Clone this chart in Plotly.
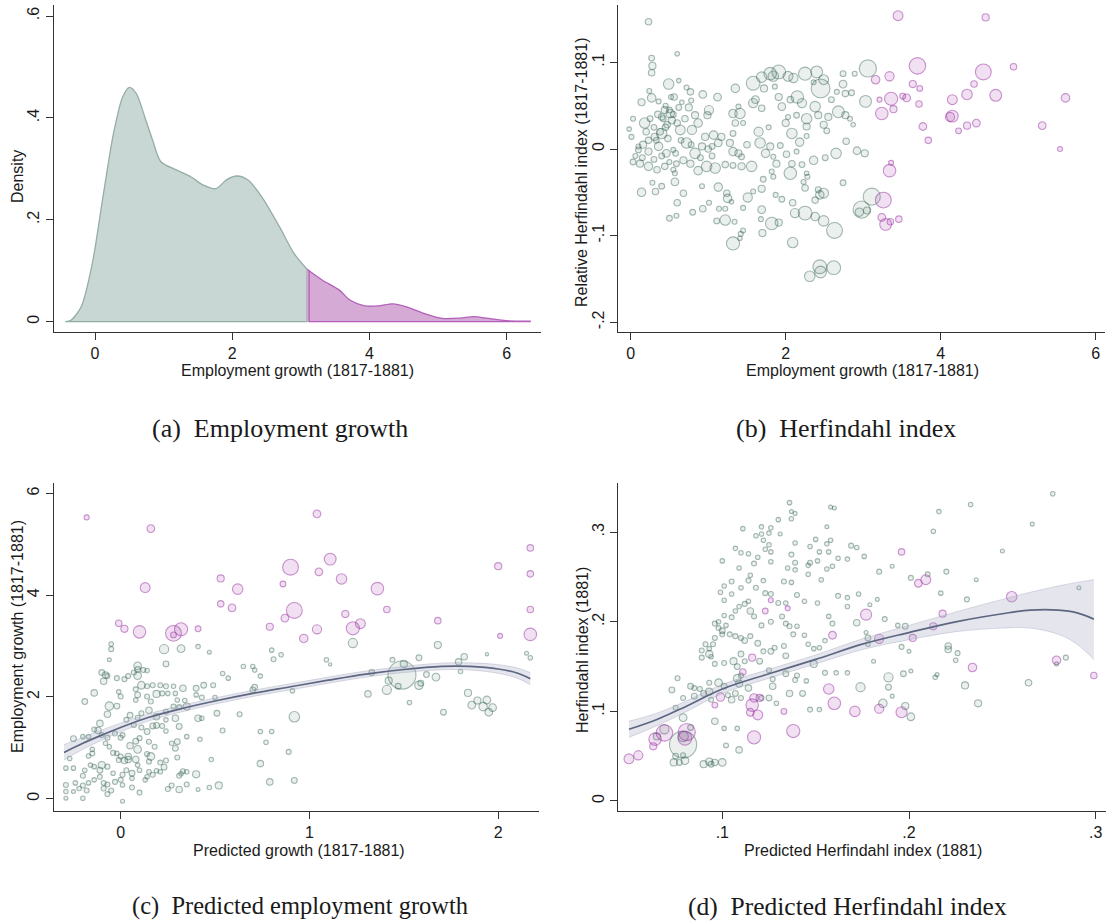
import plotly.graph_objects as go
import numpy as np

W, H = 1108, 922

# ---------------- Panel (a): kernel density of employment growth ----------------
dens_x = [-0.43, -0.35, -0.20, -0.04, 0.11, 0.27, 0.40, 0.50, 0.60, 0.73, 0.84, 0.96, 1.20, 1.40,
          1.58, 1.76, 1.92, 2.07, 2.23, 2.43, 2.69, 2.90, 3.09, 3.31, 3.56, 3.72, 3.93, 4.13,
          4.34, 4.54, 4.80, 5.06, 5.32, 5.52, 5.73, 5.99, 6.35]
dens_y = [0.000, 0.003, 0.030, 0.114, 0.240, 0.370, 0.440, 0.460, 0.448, 0.400, 0.356, 0.314, 0.297, 0.284,
          0.268, 0.261, 0.279, 0.286, 0.278, 0.245, 0.186, 0.134, 0.103, 0.082, 0.062, 0.042, 0.031, 0.031,
          0.035, 0.029, 0.016, 0.0065, 0.007, 0.0098, 0.0065, 0.002, 0.0013]
cutoff = 3.09

# ---------------- Panel (b): relative Herfindahl vs employment growth ----------------
b_green = [
    (0.23, 0.147, 9), (0.60, 0.110, 4), (0.27, 0.105, 7), (0.28, 0.096, 11), (0.27, 0.088, 9),
    (0.49, 0.075, 25), (0.62, 0.079, 4), (0.72, 0.071, 5), (0.77, 0.066, 9), (0.24, 0.067, 5),
    (0.27, 0.059, 16), (0.14, 0.054, 11), (0.56, 0.060, 9), (0.66, 0.054, 4), (0.78, 0.056, 5),
    (0.93, 0.063, 13), (1.12, 0.060, 13), (1.01, 0.045, 19), (0.99, 0.039, 11), (0.03, 0.035, 5),
    (0.18, 0.030, 25), (-0.02, 0.023, 4), (0.01, 0.014, 5), (0.44, 0.045, 11), (0.51, 0.041, 16),
    (0.40, 0.037, 9), (0.53, 0.033, 11), (0.75, 0.048, 11), (0.83, 0.039, 11), (0.87, 0.030, 16),
    (0.79, 0.022, 19), (0.64, 0.022, 22), (0.40, 0.018, 25), (0.31, 0.014, 11), (0.23, 0.010, 9),
    (0.16, 0.005, 11), (0.10, -0.001, 7), (0.23, -0.003, 11), (0.36, 0.003, 16), (0.46, -0.005, 13),
    (0.55, -0.001, 5), (0.72, 0.007, 25), (0.83, -0.005, 25), (0.92, 0.003, 11), (0.96, 0.014, 11),
    (1.07, 0.016, 16), (1.17, 0.014, 11), (1.13, 0.007, 13), (1.05, 0.003, 7), (1.28, 0.007, 11),
    (1.32, -0.003, 16), (1.39, -0.005, 11), (1.43, -0.009, 7), (1.50, 0.005, 9), (1.32, 0.018, 7),
    (1.32, 0.041, 16), (1.41, 0.041, 25), (1.39, 0.049, 5), (1.45, 0.030, 5), (1.35, 0.030, 9),
    (1.35, 0.070, 16), (1.58, 0.053, 19), (1.69, 0.047, 9), (1.61, 0.057, 13), (1.58, 0.076, 44),
    (1.69, 0.083, 25), (1.80, 0.087, 36), (1.91, 0.089, 44), (1.84, 0.084, 25), (2.03, 0.084, 22),
    (2.10, 0.082, 19), (2.25, 0.087, 40), (2.40, 0.089, 32), (2.45, 0.070, 84), (2.49, 0.080, 22),
    (2.36, 0.077, 5), (2.74, 0.087, 7), (2.89, 0.087, 5), (2.74, 0.075, 13), (2.77, 0.064, 9),
    (2.85, 0.065, 7), (2.66, 0.066, 5), (1.72, 0.070, 11), (1.86, 0.072, 5), (1.91, 0.060, 11),
    (1.95, 0.049, 13), (2.06, 0.057, 9), (2.15, 0.060, 36), (2.21, 0.053, 19), (2.14, 0.039, 7),
    (2.38, 0.049, 25), (2.59, 0.057, 7), (2.68, 0.043, 32), (2.77, 0.039, 11), (2.83, 0.035, 5),
    (2.87, 0.028, 4), (2.55, 0.037, 11), (2.42, 0.039, 11), (2.49, 0.028, 11), (2.53, 0.021, 7),
    (2.27, 0.035, 25), (2.27, 0.026, 11), (2.27, 0.015, 5), (2.18, 0.008, 16), (2.08, 0.018, 25),
    (2.00, 0.030, 11), (2.03, 0.037, 5), (1.78, 0.025, 5), (1.65, 0.020, 19), (1.67, 0.007, 25),
    (1.80, 0.003, 11), (1.74, -0.005, 16), (1.93, 0.004, 7), (2.01, -0.006, 9), (2.14, -0.003, 5),
    (1.84, -0.009, 5), (1.88, -0.017, 11), (1.82, -0.026, 5), (1.84, -0.032, 5), (1.56, -0.020, 25),
    (1.43, -0.020, 11), (1.32, -0.019, 7), (1.22, -0.018, 9), (1.09, -0.022, 25), (0.98, -0.020, 25),
    (0.87, -0.025, 16), (0.77, -0.017, 11), (0.68, -0.013, 11), (0.59, -0.017, 7), (0.55, -0.024, 5),
    (0.44, -0.020, 9), (0.34, -0.024, 9), (0.23, -0.020, 16), (0.12, -0.017, 11), (0.03, -0.015, 7),
    (2.08, -0.017, 9), (2.06, -0.028, 36), (2.21, -0.018, 7), (2.36, -0.013, 16), (2.27, -0.028, 4),
    (2.23, -0.038, 5), (2.51, -0.010, 7), (2.65, -0.005, 25), (2.78, 0.009, 9), (2.92, -0.002, 13),
    (3.02, -0.005, 11), (2.74, -0.039, 7), (0.14, -0.050, 16), (0.32, -0.049, 9), (0.40, -0.043, 7),
    (0.28, -0.039, 5), (0.57, -0.038, 13), (0.57, -0.028, 5), (0.68, -0.051, 9), (0.60, -0.062, 9),
    (0.80, -0.073, 7), (0.93, -0.069, 9), (1.01, -0.062, 5), (0.50, -0.080, 7), (0.59, -0.077, 5),
    (0.92, -0.043, 5), (1.13, -0.044, 16), (1.24, -0.051, 9), (1.25, -0.057, 16), (1.30, -0.061, 4),
    (1.14, -0.069, 5), (1.22, -0.069, 5), (1.11, -0.083, 7), (1.22, -0.082, 25), (1.34, -0.084, 5),
    (1.45, -0.068, 5), (1.51, -0.056, 19), (1.58, -0.049, 5), (1.69, -0.046, 11), (1.71, -0.035, 7),
    (1.69, -0.070, 13), (1.68, -0.081, 5), (1.82, -0.086, 36), (1.91, -0.085, 11), (1.70, -0.097, 11),
    (1.45, -0.094, 5), (1.42, -0.098, 5), (1.41, -0.103, 4), (1.32, -0.109, 40), (1.87, -0.053, 5),
    (1.95, -0.058, 7), (2.09, -0.062, 9), (2.12, -0.074, 19), (2.25, -0.074, 44), (2.38, -0.078, 16),
    (2.49, -0.083, 25), (2.63, -0.094, 59), (2.38, -0.059, 9), (2.44, -0.053, 16), (2.49, -0.051, 22),
    (2.42, -0.047, 7), (2.25, -0.045, 9), (2.09, -0.108, 25), (2.31, -0.147, 25), (2.44, -0.136, 44),
    (2.45, -0.142, 32), (2.62, -0.137, 44), (2.28, -0.032, 5),
    (3.06, 0.093, 69), (3.03, 0.055, 32), (3.11, -0.055, 69), (2.98, -0.070, 69), (3.05, -0.071, 11),
    (2.95, -0.073, 16),
    (0.35, 0.040, 9), (0.42, 0.035, 7), (0.47, 0.028, 9), (0.30, 0.025, 7), (0.38, 0.020, 9),
    (0.50, 0.045, 7), (0.45, 0.050, 5), (0.55, 0.040, 7), (0.60, 0.030, 9), (0.33, 0.010, 7),
    (0.20, 0.020, 9), (0.25, 0.035, 7), (0.10, 0.003, 5), (0.06, -0.008, 5), (0.15, -0.010, 7),
    (0.40, -0.008, 7), (0.50, -0.015, 5), (0.65, 0.010, 7), (0.70, 0.035, 9), (0.62, 0.048, 7),
    (0.58, -0.005, 7), (0.30, -0.012, 7), (0.48, 0.012, 9), (0.78, 0.005, 7), (0.90, -0.010, 7),
    (1.00, 0.000, 9), (1.05, -0.008, 7), (0.36, 0.055, 5), (0.52, 0.060, 5), (0.45, 0.025, 9),
]
b_purple = [
    (3.45, 0.154, 22), (4.58, 0.152, 11), (3.70, 0.096, 64), (4.55, 0.089, 59), (4.94, 0.095, 9),
    (3.16, 0.080, 16), (3.34, 0.084, 19), (3.64, 0.075, 11), (3.73, 0.070, 7), (3.21, 0.057, 5),
    (3.36, 0.058, 40), (3.51, 0.061, 7), (3.56, 0.059, 13), (3.72, 0.052, 9), (4.15, 0.057, 22),
    (4.34, 0.063, 25), (4.43, 0.075, 9), (4.71, 0.062, 32), (5.61, 0.059, 16), (3.24, 0.041, 36),
    (3.39, 0.046, 11), (4.15, 0.038, 32), (4.12, 0.037, 19), (3.77, 0.026, 13), (3.84, 0.010, 9),
    (4.23, 0.021, 7), (4.34, 0.027, 11), (4.46, 0.030, 13), (5.31, 0.027, 13), (5.54, 0.000, 5),
    (3.36, -0.016, 5), (3.34, -0.025, 36), (3.26, -0.059, 59), (3.24, -0.079, 13), (3.35, -0.084, 9),
    (3.46, -0.081, 9), (3.29, -0.087, 32),
]

# ---------------- Panel (c): employment growth vs predicted growth ----------------
c_green = [
    (1.23, 3.06, 19), (1.68, 3.02, 11), (-0.05, 3.04, 4), (-0.05, 2.94, 5), (-0.06, 2.73, 3),
    (0.23, 2.94, 19), (0.32, 2.95, 13), (0.24, 2.65, 7), (0.09, 2.61, 13), (0.41, 2.99, 4),
    (0.47, 2.88, 3), (0.80, 2.92, 4), (0.81, 2.74, 5), (0.85, 2.83, 4), (1.09, 2.73, 4),
    (1.11, 2.64, 2), (0.65, 2.60, 4), (0.70, 2.60, 4), (0.54, 2.46, 4), (1.58, 2.77, 7),
    (1.82, 2.79, 9), (1.79, 2.69, 9), (1.94, 2.84, 2), (2.15, 2.86, 3), (2.17, 2.77, 4),
    (1.44, 2.73, 5), (1.50, 2.65, 11), (1.62, 2.44, 7), (1.33, 2.48, 7), (1.80, 2.50, 4),
    (1.49, 2.43, 190),
    (-0.10, 2.48, 7), (-0.08, 2.43, 9), (-0.07, 2.41, 5), (-0.09, 2.31, 9), (-0.14, 2.08, 9),
    (-0.19, 1.91, 7), (0.09, 2.54, 7), (0.07, 2.48, 5), (0.04, 2.41, 5), (0.02, 2.35, 5),
    (-0.02, 2.37, 5), (0.09, 2.42, 13), (0.12, 2.53, 5), (0.14, 2.52, 4), (0.11, 2.23, 13),
    (0.08, 2.15, 5), (0.09, 2.04, 7), (0.08, 1.94, 4), (0.00, 2.01, 5), (-0.01, 2.10, 4),
    (-0.06, 1.82, 16), (-0.02, 1.82, 7), (-0.07, 1.66, 9), (0.14, 2.21, 5), (0.17, 2.23, 5),
    (0.21, 2.23, 5), (0.24, 2.21, 5), (0.28, 2.21, 4), (0.19, 2.06, 11), (0.14, 2.01, 5),
    (0.16, 1.91, 5), (0.15, 1.74, 9), (0.11, 1.68, 5), (0.09, 1.59, 5), (0.05, 1.64, 7),
    (0.03, 1.55, 5), (0.07, 1.45, 5), (0.22, 2.07, 5), (0.25, 2.07, 4), (0.29, 2.07, 4),
    (0.30, 1.94, 4), (0.34, 1.93, 4), (0.33, 2.17, 9), (0.40, 2.17, 7), (0.44, 2.23, 7),
    (0.49, 2.23, 5), (0.40, 2.04, 4), (0.43, 1.99, 5), (0.50, 1.99, 4), (0.35, 1.81, 11),
    (0.31, 1.80, 5), (0.28, 1.81, 5), (0.24, 1.71, 5), (0.19, 1.61, 9), (0.29, 1.58, 9),
    (0.24, 1.55, 4), (0.19, 1.44, 7), (0.22, 1.43, 5), (0.24, 1.33, 4), (0.31, 1.42, 7),
    (0.27, 1.09, 4), (0.17, 1.43, 7), (0.14, 1.32, 7), (0.11, 1.40, 5), (0.41, 1.58, 9),
    (0.43, 1.58, 4), (0.51, 1.68, 7), (0.63, 1.66, 5), (0.57, 2.37, 4), (0.71, 2.53, 4),
    (0.74, 2.41, 4), (0.70, 2.14, 7), (0.71, 2.19, 7), (0.91, 2.12, 4), (0.92, 1.61, 25),
    (0.54, 1.34, 5), (0.74, 1.32, 4), (0.80, 1.32, 4), (0.77, 1.11, 4), (0.89, 0.92, 5),
    (0.74, 0.69, 9), (0.79, 0.33, 9), (0.92, 0.36, 7), (0.48, 0.77, 4), (0.42, 1.17, 4),
    (0.35, 1.22, 4), (0.30, 1.12, 7), (0.29, 0.99, 7), (0.30, 0.81, 5), (0.24, 0.75, 5),
    (0.23, 0.62, 7), (0.19, 0.55, 4), (0.21, 0.71, 5), (0.16, 0.83, 13), (0.14, 0.88, 5),
    (0.18, 1.02, 5), (0.15, 1.12, 5), (0.10, 1.19, 5), (0.08, 1.13, 7), (0.09, 0.97, 13),
    (0.05, 1.04, 9), (0.04, 0.83, 9), (0.02, 0.75, 9), (0.04, 0.77, 9), (0.00, 1.20, 5),
    (0.01, 1.25, 5), (-0.03, 1.28, 5), (-0.07, 1.20, 5), (-0.10, 1.25, 5), (-0.12, 1.34, 9),
    (-0.11, 1.48, 9), (-0.14, 1.36, 5), (-0.17, 1.22, 4), (-0.08, 1.09, 4), (-0.06, 1.02, 4),
    (-0.02, 0.89, 4), (-0.04, 0.90, 5), (0.00, 0.83, 5), (-0.01, 0.76, 5), (0.08, 0.77, 9),
    (0.09, 0.66, 4), (0.10, 0.56, 4), (0.06, 0.50, 7), (0.06, 0.40, 4), (0.03, 0.56, 5),
    (0.01, 0.47, 5), (0.00, 0.37, 5), (-0.03, 0.33, 5), (-0.04, 0.50, 4), (-0.07, 0.63, 5),
    (-0.10, 0.66, 11), (-0.11, 0.56, 7), (-0.14, 0.63, 4), (-0.16, 0.66, 4), (-0.19, 0.56, 4),
    (-0.15, 0.89, 5), (-0.15, 0.97, 4), (-0.17, 0.84, 4), (-0.11, 0.43, 5), (-0.09, 0.31, 5),
    (-0.07, 0.28, 5), (-0.09, 0.20, 5), (-0.05, 0.16, 5), (-0.07, 0.09, 5), (-0.14, 0.37, 4),
    (-0.17, 0.31, 4), (-0.20, 0.45, 5), (-0.20, 0.26, 5), (-0.22, 0.20, 4), (-0.18, 0.16, 5),
    (-0.20, 0.01, 4), (-0.24, 0.31, 4), (-0.25, 0.14, 3), (-0.29, 0.27, 5), (-0.29, 0.14, 4),
    (-0.29, 0.01, 3), (-0.29, 0.60, 4), (-0.25, 0.60, 4), (-0.27, 0.79, 4), (-0.25, 1.18, 7),
    (-0.20, 1.22, 4), (0.01, 0.27, 4), (0.06, 0.22, 5), (0.10, 0.12, 5), (0.01, -0.05, 3),
    (0.14, 0.43, 4), (0.15, 0.53, 4), (0.17, 0.47, 5), (0.21, 0.53, 4), (0.31, 0.45, 5),
    (0.32, 0.49, 4), (0.33, 0.54, 5), (0.35, 0.53, 4), (0.40, 0.48, 11), (0.41, 0.18, 3),
    (0.47, 0.22, 4), (0.52, 0.26, 11), (0.35, 0.28, 5), (0.31, 0.18, 9), (0.27, 0.26, 5),
    (0.25, 0.19, 5), (0.15, 0.73, 5), (0.13, 0.37, 4),
    (1.31, 2.06, 9), (1.41, 2.14, 19), (1.42, 2.32, 11), (1.47, 2.21, 7), (1.58, 2.23, 16),
    (1.59, 2.27, 7), (1.67, 2.39, 13), (1.53, 1.89, 4), (1.71, 1.70, 7), (1.84, 2.08, 11),
    (1.86, 1.84, 13), (1.89, 1.93, 11), (1.92, 1.81, 16), (1.94, 1.94, 13), (1.95, 1.70, 13),
    (1.97, 1.79, 13),
]
c_purple = [
    (-0.18, 5.53, 5), (0.16, 5.31, 13), (0.13, 4.15, 22), (0.53, 4.33, 11), (0.62, 4.12, 25),
    (0.53, 3.83, 9), (0.59, 3.75, 13), (-0.01, 3.45, 9), (0.02, 3.34, 11), (0.10, 3.28, 36),
    (0.28, 3.25, 59), (0.32, 3.33, 40), (0.28, 3.22, 7), (0.41, 3.34, 7), (0.86, 4.22, 7),
    (0.90, 4.55, 59), (0.92, 3.70, 59), (0.87, 3.55, 13), (0.79, 3.38, 11), (0.97, 3.15, 16),
    (1.04, 3.33, 19), (1.04, 5.60, 13), (1.05, 4.46, 13), (1.11, 4.71, 32), (1.17, 4.32, 25),
    (1.19, 3.63, 11), (1.23, 3.35, 40), (1.27, 3.44, 22), (1.36, 4.13, 36), (1.41, 3.72, 9),
    (1.68, 3.50, 9), (2.00, 4.57, 11), (2.01, 3.20, 5), (2.17, 4.93, 9), (2.17, 4.42, 9),
    (2.17, 3.72, 9), (2.17, 3.23, 36),
]
c_fit_x = [-0.30, -0.20, -0.10, 0.00, 0.15, 0.30, 0.50, 0.70, 0.90, 1.10, 1.30, 1.50, 1.70, 1.85, 2.00, 2.10, 2.17]
c_fit_y = [0.91, 1.09, 1.25, 1.40, 1.60, 1.75, 1.92, 2.07, 2.20, 2.33, 2.45, 2.54, 2.60, 2.60, 2.55, 2.47, 2.36]
c_fit_lo = [0.76, 0.97, 1.15, 1.315, 1.53, 1.685, 1.86, 2.01, 2.14, 2.27, 2.39, 2.48, 2.535, 2.53, 2.465, 2.37, 2.24]
c_fit_hi = [1.06, 1.21, 1.35, 1.485, 1.67, 1.815, 1.98, 2.13, 2.26, 2.39, 2.51, 2.60, 2.665, 2.67, 2.635, 2.57, 2.48]

# ---------------- Panel (d): Herfindahl vs predicted Herfindahl ----------------
d_green = [
    (0.079, 0.063, 178), (0.079, 0.072, 25), (0.069, 0.080, 19), (0.065, 0.072, 11),
    (0.074, 0.043, 11), (0.077, 0.043, 7), (0.080, 0.045, 13), (0.075, 0.050, 7), (0.079, 0.051, 5),
    (0.090, 0.041, 11), (0.093, 0.044, 11), (0.094, 0.041, 7), (0.096, 0.043, 9), (0.100, 0.043, 13),
    (0.079, 0.093, 13), (0.083, 0.082, 7), (0.096, 0.089, 9), (0.101, 0.081, 4), (0.108, 0.081, 4),
    (0.102, 0.062, 5), (0.109, 0.057, 9), (0.073, 0.124, 7), (0.076, 0.137, 5), (0.075, 0.104, 5),
    (0.079, 0.115, 5), (0.083, 0.128, 7), (0.085, 0.126, 5), (0.085, 0.117, 7), (0.088, 0.125, 5),
    (0.090, 0.120, 7), (0.093, 0.122, 11), (0.094, 0.113, 5), (0.093, 0.132, 5), (0.098, 0.132, 13),
    (0.101, 0.128, 7), (0.103, 0.118, 5), (0.105, 0.113, 9), (0.107, 0.120, 7), (0.109, 0.131, 11),
    (0.108, 0.137, 13), (0.110, 0.140, 5), (0.114, 0.126, 9), (0.110, 0.115, 5), (0.121, 0.115, 5),
    (0.125, 0.115, 7), (0.127, 0.128, 9), (0.129, 0.109, 4), (0.136, 0.120, 9), (0.143, 0.120, 7),
    (0.149, 0.153, 11), (0.147, 0.102, 5), (0.152, 0.102, 4), (0.155, 0.143, 5), (0.161, 0.143, 4),
    (0.167, 0.143, 4), (0.174, 0.127, 19), (0.145, 0.134, 4), (0.139, 0.135, 5), (0.140, 0.140, 5),
    (0.134, 0.142, 7), (0.127, 0.136, 5), (0.125, 0.146, 5), (0.120, 0.156, 7), (0.112, 0.156, 5),
    (0.108, 0.150, 7), (0.106, 0.156, 11), (0.101, 0.154, 5), (0.096, 0.153, 5), (0.094, 0.161, 4),
    (0.093, 0.164, 11), (0.089, 0.160, 5), (0.089, 0.168, 5), (0.093, 0.170, 4), (0.095, 0.175, 5),
    (0.091, 0.175, 5), (0.096, 0.182, 5), (0.100, 0.186, 5), (0.104, 0.186, 5), (0.107, 0.184, 5),
    (0.112, 0.179, 7), (0.115, 0.184, 5), (0.119, 0.176, 7), (0.122, 0.167, 5), (0.126, 0.167, 7),
    (0.128, 0.171, 5), (0.133, 0.173, 5), (0.134, 0.162, 7), (0.110, 0.164, 7), (0.110, 0.182, 5),
    (0.098, 0.193, 5), (0.100, 0.190, 7), (0.096, 0.198, 5), (0.098, 0.200, 4), (0.101, 0.207, 4),
    (0.102, 0.196, 4), (0.105, 0.205, 5), (0.107, 0.212, 4), (0.109, 0.217, 4), (0.112, 0.220, 5),
    (0.114, 0.223, 4), (0.115, 0.212, 9), (0.117, 0.206, 5), (0.121, 0.196, 5), (0.126, 0.200, 5),
    (0.132, 0.206, 5), (0.134, 0.198, 5), (0.136, 0.195, 5), (0.138, 0.186, 5), (0.140, 0.195, 4),
    (0.144, 0.185, 4), (0.146, 0.175, 4), (0.149, 0.170, 4), (0.152, 0.171, 4), (0.155, 0.179, 4),
    (0.159, 0.198, 5), (0.157, 0.206, 4), (0.151, 0.221, 4), (0.162, 0.229, 5), (0.167, 0.227, 4),
    (0.167, 0.217, 4), (0.172, 0.199, 9), (0.173, 0.231, 4), (0.144, 0.223, 4), (0.140, 0.230, 5),
    (0.134, 0.221, 4), (0.130, 0.221, 5), (0.126, 0.231, 5), (0.123, 0.232, 5), (0.118, 0.238, 5),
    (0.114, 0.246, 5), (0.110, 0.238, 4), (0.105, 0.231, 4), (0.101, 0.224, 4), (0.099, 0.233, 4),
    (0.105, 0.245, 5), (0.101, 0.240, 4), (0.115, 0.252, 4), (0.122, 0.246, 4), (0.133, 0.245, 5),
    (0.137, 0.244, 4), (0.139, 0.258, 4), (0.146, 0.253, 4), (0.153, 0.247, 4), (0.156, 0.259, 4),
    (0.159, 0.262, 4), (0.162, 0.271, 4), (0.167, 0.270, 4), (0.169, 0.285, 5), (0.172, 0.283, 4),
    (0.176, 0.273, 4), (0.146, 0.263, 4), (0.147, 0.266, 5), (0.151, 0.268, 4), (0.152, 0.278, 4),
    (0.157, 0.278, 4), (0.156, 0.287, 4), (0.158, 0.291, 4), (0.150, 0.292, 4), (0.147, 0.284, 4),
    (0.139, 0.288, 4), (0.135, 0.260, 4), (0.139, 0.266, 5), (0.137, 0.275, 5), (0.126, 0.267, 4),
    (0.119, 0.272, 4), (0.117, 0.265, 5), (0.114, 0.276, 4), (0.110, 0.277, 4), (0.107, 0.282, 4),
    (0.109, 0.260, 4), (0.100, 0.268, 4), (0.123, 0.281, 4), (0.126, 0.278, 4), (0.125, 0.286, 4),
    (0.122, 0.291, 4), (0.125, 0.299, 4), (0.121, 0.298, 4), (0.118, 0.296, 4), (0.111, 0.304, 4),
    (0.121, 0.306, 4), (0.126, 0.305, 4), (0.131, 0.298, 3), (0.130, 0.314, 4), (0.137, 0.315, 4),
    (0.137, 0.323, 3), (0.139, 0.321, 3), (0.136, 0.333, 4), (0.156, 0.306, 3), (0.158, 0.328, 3),
    (0.160, 0.327, 3),
    (0.277, 0.343, 4), (0.233, 0.331, 4), (0.216, 0.323, 4), (0.213, 0.301, 4), (0.266, 0.309, 3),
    (0.250, 0.279, 3), (0.191, 0.262, 3), (0.184, 0.256, 5), (0.201, 0.249, 5), (0.210, 0.253, 5),
    (0.220, 0.256, 5), (0.236, 0.247, 3), (0.217, 0.232, 4), (0.231, 0.225, 5), (0.183, 0.225, 3),
    (0.179, 0.219, 3), (0.187, 0.203, 5), (0.194, 0.196, 4), (0.198, 0.195, 7), (0.178, 0.182, 7),
    (0.178, 0.175, 4), (0.177, 0.188, 3), (0.196, 0.172, 5), (0.200, 0.167, 3), (0.221, 0.173, 9),
    (0.221, 0.169, 9), (0.226, 0.165, 5), (0.225, 0.157, 4), (0.181, 0.156, 3), (0.197, 0.142, 7),
    (0.201, 0.145, 3), (0.215, 0.141, 3), (0.214, 0.138, 4), (0.189, 0.138, 19), (0.189, 0.127, 7),
    (0.230, 0.129, 11), (0.264, 0.132, 9), (0.284, 0.160, 5), (0.279, 0.153, 3), (0.291, 0.238, 3),
    (0.191, 0.117, 3), (0.186, 0.109, 16), (0.198, 0.106, 11), (0.201, 0.094, 13), (0.237, 0.109, 11),
]
d_purple = [
    (0.050, 0.047, 22), (0.055, 0.051, 19), (0.063, 0.061, 11), (0.064, 0.069, 36), (0.069, 0.076, 64),
    (0.081, 0.077, 69), (0.080, 0.070, 44), (0.096, 0.107, 7), (0.099, 0.116, 16), (0.111, 0.144, 9),
    (0.116, 0.160, 11), (0.123, 0.212, 7), (0.126, 0.224, 5), (0.135, 0.215, 5), (0.116, 0.107, 36),
    (0.115, 0.099, 13), (0.117, 0.115, 16), (0.120, 0.115, 11), (0.119, 0.096, 22), (0.117, 0.071, 40),
    (0.138, 0.078, 40), (0.133, 0.100, 7), (0.157, 0.125, 25), (0.160, 0.109, 36), (0.159, 0.185, 13),
    (0.171, 0.100, 25), (0.177, 0.208, 28), (0.184, 0.181, 19), (0.196, 0.278, 9), (0.205, 0.243, 13),
    (0.209, 0.247, 22), (0.202, 0.182, 11), (0.213, 0.195, 11), (0.218, 0.209, 11), (0.234, 0.149, 16),
    (0.255, 0.228, 25), (0.279, 0.157, 16), (0.299, 0.140, 9), (0.184, 0.103, 19), (0.196, 0.099, 28),
]
d_fit_x = [0.050, 0.065, 0.080, 0.100, 0.125, 0.150, 0.175, 0.200, 0.225, 0.250, 0.265, 0.280, 0.290, 0.299]
d_fit_y = [0.080, 0.091, 0.105, 0.125, 0.142, 0.158, 0.175, 0.188, 0.200, 0.209, 0.213, 0.213, 0.210, 0.203]
d_fit_lo = [0.071, 0.084, 0.099, 0.120, 0.137, 0.153, 0.169, 0.180, 0.189, 0.193, 0.193, 0.186, 0.175, 0.158]
d_fit_hi = [0.089, 0.098, 0.111, 0.130, 0.147, 0.163, 0.181, 0.196, 0.211, 0.225, 0.233, 0.240, 0.244, 0.247]

captions = ["(a)\u00a0 Employment growth", "(b)\u00a0 Herfindahl index",
            "(c)\u00a0 Predicted employment growth", "(d)\u00a0 Predicted Herfindahl index"]

# ---------------- styles ----------------
G_FILL = "rgba(40,90,72,0.13)"
G_LINE = "rgba(40,90,72,0.60)"
P_FILL = "rgba(150,40,160,0.20)"
P_LINE = "rgba(150,40,160,0.70)"
AX = "#333333"
SANS = "Liberation Sans, Arial, sans-serif"
SERIF = "Liberation Serif, Times New Roman, serif"

fig = go.Figure()


def bubbles(data, fill, line, xa, ya):
    xs = [p[0] for p in data]
    ys = [p[1] for p in data]
    ws = np.array([p[2] for p in data], dtype=float)
    fig.add_trace(go.Scatter(
        x=xs, y=ys, mode="markers", xaxis=xa, yaxis=ya, showlegend=False, hoverinfo="skip",
        marker=dict(size=2.0 * np.sqrt(ws) + 0.5, color=fill, line=dict(color=line, width=1.1))))


def fit(xs, ys, lo, hi, xa, ya):
    fig.add_trace(go.Scatter(x=xs, y=hi, mode="lines", xaxis=xa, yaxis=ya, showlegend=False,
                             line=dict(color="rgba(150,155,185,0.45)", width=0.8, shape="spline"),
                             hoverinfo="skip"))
    fig.add_trace(go.Scatter(x=xs, y=lo, mode="lines", xaxis=xa, yaxis=ya, showlegend=False,
                             fill="tonexty", fillcolor="rgba(150,155,185,0.25)",
                             line=dict(color="rgba(150,155,185,0.45)", width=0.8, shape="spline"),
                             hoverinfo="skip"))
    fig.add_trace(go.Scatter(x=xs, y=ys, mode="lines", xaxis=xa, yaxis=ya, showlegend=False,
                             line=dict(color="#5d6782", width=1.7, shape="spline"), hoverinfo="skip"))


# Panel (a)
dx = np.array(dens_x)
dy = np.array(dens_y)
yc = float(np.interp(cutoff, dx, dy))
gx = list(dx[dx < cutoff]) + [cutoff]
gy = list(dy[dx < cutoff]) + [yc]
px_ = [cutoff] + list(dx[dx > cutoff])
py_ = [yc] + list(dy[dx > cutoff])
G_A_FILL, G_A_LINE = "rgb(201,215,212)", "rgb(148,173,167)"
P_A_FILL, P_A_LINE = "rgb(213,170,213)", "rgb(180,95,185)"
fig.add_trace(go.Scatter(x=gx, y=gy, fill="tozeroy", mode="lines", fillcolor=G_A_FILL,
                         line=dict(color=G_A_LINE, width=1.3, shape="spline", smoothing=0.8),
                         xaxis="x", yaxis="y", showlegend=False, hoverinfo="skip"))
fig.add_trace(go.Scatter(x=[gx[0], cutoff, cutoff], y=[0, 0, yc], mode="lines",
                         line=dict(color=G_A_LINE, width=1.3),
                         xaxis="x", yaxis="y", showlegend=False, hoverinfo="skip"))
fig.add_trace(go.Scatter(x=px_, y=py_, fill="tozeroy", mode="lines", fillcolor=P_A_FILL,
                         line=dict(color=P_A_LINE, width=1.3, shape="spline", smoothing=0.8),
                         xaxis="x", yaxis="y", showlegend=False, hoverinfo="skip"))
fig.add_trace(go.Scatter(x=[cutoff + 0.03, cutoff + 0.03, px_[-1]], y=[yc - 0.002, 0, 0], mode="lines",
                         line=dict(color=P_A_LINE, width=1.3),
                         xaxis="x", yaxis="y", showlegend=False, hoverinfo="skip"))

# Panel (b)
bubbles(b_green, G_FILL, G_LINE, "x2", "y2")
bubbles(b_purple, P_FILL, P_LINE, "x2", "y2")

# Panel (c)
bubbles(c_green, G_FILL, G_LINE, "x3", "y3")
bubbles(c_purple, P_FILL, P_LINE, "x3", "y3")
fit(c_fit_x, c_fit_y, c_fit_lo, c_fit_hi, "x3", "y3")

# Panel (d)
bubbles(d_green, G_FILL, G_LINE, "x4", "y4")
bubbles(d_purple, P_FILL, P_LINE, "x4", "y4")
fit(d_fit_x, d_fit_y, d_fit_lo, d_fit_hi, "x4", "y4")


def axis(domain, rng, vals, texts, anchor, angle=0):
    return dict(domain=domain, range=rng, tickvals=vals, ticktext=texts, anchor=anchor,
                showline=True, linecolor=AX, linewidth=1.3, mirror=False,
                ticks="outside", ticklen=7, tickwidth=1.3, tickcolor=AX,
                showgrid=False, zeroline=False, tickangle=angle,
                tickfont=dict(family=SANS, size=16, color="#1a1a1a"), fixedrange=True)


def fx(p):
    return p / W


def fy(p):
    return 1 - p / H


layout = dict(
    width=W, height=H, margin=dict(l=0, r=0, t=0, b=0),
    paper_bgcolor="white", plot_bgcolor="white", showlegend=False,
    xaxis=axis([fx(54), fx(541)], [-0.598, 6.50], [0, 2, 4, 6], ["0", "2", "4", "6"], "y"),
    yaxis=axis([fy(331.7), fy(5)], [-0.0196, 0.6216], [0, 0.2, 0.4, 0.6], ["0", ".2", ".4", ".6"], "x", -90),
    xaxis2=axis([fx(618.3), fx(1105)], [-0.16, 6.12], [0, 2, 4, 6], ["0", "2", "4", "6"], "y2"),
    yaxis2=axis([fy(332), fy(5)], [-0.2113, 0.1663], [-0.2, -0.1, 0, 0.1], ["-.2", "-.1", "0", ".1"], "x2", -90),
    xaxis3=axis([fx(54), fx(539)], [-0.353, 2.216], [0, 1, 2], ["0", "1", "2"], "y3"),
    yaxis3=axis([fy(810.7), fy(483.3)], [-0.236, 6.2], [0, 2, 4, 6], ["0", "2", "4", "6"], "x3", -90),
    xaxis4=axis([fx(618.3), fx(1106)], [0.0443, 0.3055], [0.1, 0.2, 0.3], [".1", ".2", ".3"], "y4"),
    yaxis4=axis([fy(811), fy(483.3)], [-0.0112, 0.3546], [0, 0.1, 0.2, 0.3], ["0", ".1", ".2", ".3"], "x4", -90),
)

ann = []


def label(text, x, y, size=16, family=SANS, angle=0):
    ann.append(dict(text=text, x=fx(x), y=fy(y), xref="paper", yref="paper", showarrow=False,
                    xanchor="center", yanchor="middle", textangle=angle,
                    font=dict(family=family, size=size, color="#1a1a1a")))


# axis titles
label("Employment growth (1817-1881)", 297, 370)
label("Density", 17, 177, angle=-90)
label("Employment growth (1817-1881)", 862, 370)
label("Relative Herfindahl index (1817-1881)", 581, 172, angle=-90)
label("Predicted growth (1817-1881)", 299, 850)
label("Employment growth (1817-1881)", 17, 637, angle=-90)
label("Predicted Herfindahl index (1881)", 863, 850)
label("Herfindahl index (1881)", 582, 650, angle=-90)

# captions
label(captions[0], 280, 428, size=26, family=SERIF)
label(captions[1], 846, 428, size=26, family=SERIF)
label(captions[2], 300, 906, size=24.5, family=SERIF)
label(captions[3], 847, 906, size=25.5, family=SERIF)

layout["annotations"] = ann
fig.update_layout(**layout)
fig.write_html("out.html")
